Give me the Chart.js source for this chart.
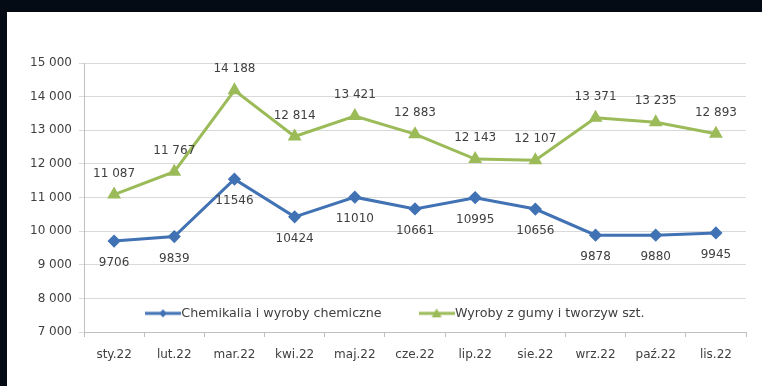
<!DOCTYPE html>
<html>
<head>
<meta charset="utf-8">
<script src="https://cdn.jsdelivr.net/npm/chart.js@4/dist/chart.umd.min.js"></script>
<style>
  html, body { margin: 0; padding: 0; background: #050b14; width: 762px; height: 386px; overflow: hidden; }
  #box { position: absolute; left: 7px; top: 12px; width: 755px; height: 374px; background: #fff; }
</style>
</head>
<body>
<div id="box"><canvas id="chart" width="755" height="374"></canvas></div>
<script>
const months = ["sty.22", "lut.22", "mar.22", "kwi.22", "maj.22", "cze.22", "lip.22", "sie.22", "wrz.22", "paź.22", "lis.22"];
const chemikalia = [9706, 9839, 11546, 10424, 11010, 10661, 10995, 10656, 9878, 9880, 9945];
const guma = [11087, 11767, 14188, 12814, 13421, 12883, 12143, 12107, 13371, 13235, 12893];
const yMin = 7000, yMax = 15000, yStep = 1000;

const blue = "#4072b4";
const green = "#9bbb59";
const textCol = "#404040";

Chart.defaults.font.family = "DejaVu Sans";
Chart.defaults.font.size = 12;
Chart.defaults.color = textCol;

const spaced = v => String(v).replace(/\B(?=(\d{3})+(?!\d))/g, " ");

// small line + marker picture for the legend
function legendMark(color, shape) {
  const c = document.createElement("canvas");
  c.width = 36; c.height = 12;
  const g = c.getContext("2d");
  g.strokeStyle = color;
  g.lineWidth = 3;
  g.beginPath(); g.moveTo(0, 6); g.lineTo(36, 6); g.stroke();
  g.fillStyle = color;
  g.beginPath();
  if (shape === "diamond") {
    g.moveTo(18, 2); g.lineTo(22, 6); g.lineTo(18, 10); g.lineTo(14, 6);
  } else {
    g.moveTo(18, 1); g.lineTo(23, 10); g.lineTo(13, 10);
  }
  g.closePath(); g.fill();
  return c;
}
const marks = [legendMark(blue, "diamond"), legendMark(green, "triangle")];

const valueLabels = {
  id: "valueLabels",
  afterDatasetsDraw(chart) {
    const ctx = chart.ctx;
    ctx.save();
    ctx.font = "12px 'DejaVu Sans'";
    ctx.fillStyle = textCol;
    ctx.textAlign = "center";
    ctx.textBaseline = "middle";
    chart.data.datasets.forEach((ds, i) => {
      chart.getDatasetMeta(i).data.forEach((pt, j) => {
        const v = ds.data[j];
        if (i === 0) ctx.fillText(String(v), pt.x, pt.y + 22);
        else ctx.fillText(spaced(v), pt.x, pt.y - 21);
      });
    });
    ctx.restore();
  }
};

// legend sits inside the plot, in one row, just above the 7 000 line
const legendInside = {
  id: "legendInside",
  afterInit(chart) {
    chart.legend.isHorizontal = () => true;
  },
  afterLayout(chart) {
    const lg = chart.legend;
    const h = lg.height;
    lg.top = 252;
    lg.bottom = 252 + h;
    lg.left = 101;
    lg.right = 101 + chart.chartArea.width;
  }
};

new Chart(document.getElementById("chart"), {
  type: "line",
  data: {
    labels: months,
    datasets: [
      {
        label: "Chemikalia i wyroby chemiczne",
        data: chemikalia,
        borderColor: blue,
        backgroundColor: blue,
        borderWidth: 3,
        pointStyle: "rectRot",
        pointRadius: 4.5,
        tension: 0
      },
      {
        label: "Wyroby z gumy i tworzyw szt.",
        data: guma,
        borderColor: green,
        backgroundColor: green,
        borderWidth: 3,
        pointStyle: "triangle",
        pointRadius: 5,
        tension: 0
      }
    ]
  },
  options: {
    responsive: false,
    animation: false,
    devicePixelRatio: 1,
    layout: { padding: { top: 51, right: 16, bottom: 0, left: 0 } },
    plugins: {
      tooltip: { enabled: false },
      legend: {
        position: "chartArea",
        align: "start",
        labels: {
          usePointStyle: true,
          pointStyleWidth: 24,
          padding: 43,
          color: textCol,
          font: { size: 12.7 },
          generateLabels(chart) {
            const items = Chart.defaults.plugins.legend.labels.generateLabels(chart);
            items.forEach((it, i) => { it.pointStyle = marks[i]; });
            return items;
          }
        }
      }
    },
    scales: {
      x: {
        offset: true,
        grid: { display: true, drawOnChartArea: false, offset: true, tickLength: 5, color: "#bfbfbf" },
        border: { color: "#bfbfbf" },
        ticks: { padding: 11, color: textCol, maxRotation: 0 },
        afterFit(s) { s.height = 54; }
      },
      y: {
        min: yMin,
        max: yMax,
        grid: { color: "#d9d9d9", tickLength: 5 },
        border: { color: "#bfbfbf" },
        ticks: { stepSize: yStep, padding: 7, color: textCol, callback: v => spaced(v) },
        afterFit(s) { s.width = 77; }
      }
    }
  },
  plugins: [valueLabels, legendInside]
});
</script>
</body>
</html>
